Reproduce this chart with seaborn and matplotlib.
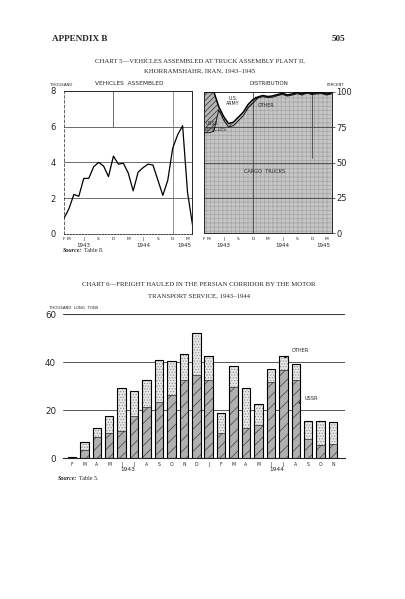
import matplotlib
matplotlib.use("Agg")
import matplotlib.pyplot as plt
import matplotlib.transforms as mtrans
import numpy as np
import pandas as pd
import seaborn as sns

# ---- Chart 5: vehicles assembled, Feb 1943 - Apr 1945 (monthly) ----
months5 = ["F", "M", "A", "M", "J", "J", "A", "S", "O", "N", "D",
           "J", "F", "M", "A", "M", "J", "J", "A", "S", "O", "N", "D",
           "J", "F", "M", "A"]
label_pos5 = [0, 1, 4, 7, 10, 13, 16, 19, 22, 25]
years5 = ["1943", "1944", "1945"]
year_pos5 = [4, 16, 24.3]

vehicles = [0.86, 1.4, 2.2, 2.1, 3.1, 3.1, 3.75, 4.0, 3.8, 3.2, 4.35,
            3.9, 3.95, 3.4, 2.4, 3.45, 3.7, 3.9, 3.85, 3.0, 2.15, 3.0, 4.8,
            5.55, 6.05, 2.3, 0.5]

# distribution, percent
cargo_pct = [71, 71, 72, 87, 80, 75, 76, 79.5, 83, 88.5, 92,
             95.5, 96.5, 95.8, 96.2, 97.2, 98.1, 96.9, 97.6, 98.6, 97.6, 99.0, 98.0,
             98.4, 98.6, 97.6, 98.4]
ussr_pct = [29, 29, 28, 2.5, 2.5, 2.5, 2.5, 2.5, 2.5, 2.5, 2.5,
            0.8, 0.8, 0.8, 0.8, 0.8, 0.8, 0.8, 0.8, 0.8, 0.8, 0.8, 0.8,
            0.8, 0.8, 0.8, 0.8]
army_pct = [0, 0, 0, 10, 17, 22, 21, 17.5, 14, 8.5, 5,
            2.7, 1.7, 2.4, 2.0, 1.0, 0.5, 1.3, 0.8, 0.2, 0.8, 0.0, 0.6,
            0.3, 0.2, 0.8, 0.3]
other_pct = [0, 0, 0, 0.5, 0.5, 0.5, 0.5, 0.5, 0.5, 0.5, 0.5,
             1.0, 1.0, 1.0, 1.0, 1.0, 0.6, 1.0, 0.8, 0.4, 0.8, 0.2, 0.6,
             0.5, 0.4, 0.8, 0.5]

# ---- Chart 6: freight hauled, thousand long tons, Feb 1943 - Nov 1944 ----
months6 = ["F", "M", "A", "M", "J", "J", "A", "S", "O", "N", "D",
           "J", "F", "M", "A", "M", "J", "J", "A", "S", "O", "N"]
years6 = ["1943", "1944"]
year_pos6 = [4.5, 16.5]
total_tons = [0.6, 6.5, 12.4, 17.7, 29.0, 27.9, 32.3, 40.7, 40.4, 43.4, 52.1,
              42.3, 18.6, 38.5, 29.2, 22.5, 37.2, 42.5, 39.3, 15.6, 15.4, 15.2]
ussr_tons = [0.3, 3.4, 8.6, 10.6, 11.3, 17.5, 21.1, 23.3, 26.2, 32.7, 34.5,
             32.4, 10.3, 29.7, 12.4, 13.7, 31.6, 36.6, 32.4, 8.1, 5.4, 5.8]

sns.set_style("white")
plt.rcParams["font.family"] = ["DejaVu Sans"]
plt.rcParams["hatch.linewidth"] = 0.5

W, H = 406, 599
fig = plt.figure(figsize=(W / 100, H / 100), dpi=100)


def box(x0, y0, x1, y1):
    # pixel box (top-left origin) -> figure fraction rect
    return [x0 / W, 1 - y1 / H, (x1 - x0) / W, (y1 - y0) / H]


def ptext(x, y, s, **kw):
    fig.text(x / W, 1 - y / H, s, **kw)


serif = "Liberation Serif"

# page header and titles
ptext(52, 39, "APPENDIX B", family=serif, fontsize=6.6, weight="bold", va="center")
ptext(345, 39, "505", family=serif, fontsize=6.6, weight="bold", va="center", ha="right")
ptext(200, 61, "CHART 5—VEHICLES ASSEMBLED AT TRUCK ASSEMBLY PLANT II,",
      family=serif, fontsize=4.9, ha="center", va="center")
ptext(200, 70.5, "KHORRAMSHAHR, IRAN, 1943–1945",
      family=serif, fontsize=4.9, ha="center", va="center")
ptext(199, 285, "CHART 6—FREIGHT HAULED IN THE PERSIAN CORRIDOR BY THE MOTOR",
      family=serif, fontsize=4.9, ha="center", va="center")
ptext(199, 295.5, "TRANSPORT SERVICE, 1943–1944",
      family=serif, fontsize=4.9, ha="center", va="center")

# ---------- left panel: vehicles assembled ----------
ax1 = fig.add_axes(box(64, 91, 192.5, 233.7))
x5 = np.arange(len(months5))
for yv in [2, 4, 6]:
    ax1.axhline(yv, color="#555555", lw=0.6, zorder=0)
ax1.plot([10, 10], [6, 8], color="#555555", lw=0.6, zorder=0)
ax1.axvline(22, color="#666666", lw=0.5, zorder=0)
sns.lineplot(x=x5, y=vehicles, ax=ax1, color="black", lw=0.9)
ax1.set_xlim(0, 26)
ax1.set_ylim(0, 8)
ax1.set_yticks([0, 2, 4, 6, 8])
ax1.set_yticklabels(["0", "2", "4", "6", "8"], fontsize=6)
ax1.set_xticks(x5)
ax1.set_xticklabels([m if i in label_pos5 else "" for i, m in enumerate(months5)],
                    fontsize=3.2)
ax1.tick_params(axis="y", length=3, width=0.5, pad=3)
ax1.tick_params(axis="x", length=1.5, width=0.4, pad=1)
for s in ["top", "right"]:
    ax1.spines[s].set_linewidth(0.7)
ax1.spines["left"].set_linewidth(0.5)
ax1.spines["left"].set_linestyle((0, (4, 3)))
ax1.spines["bottom"].set_linewidth(0.6)
ax1.spines["bottom"].set_linestyle((0, (2, 1.5)))
ax1.set_xlabel("")
ax1.set_ylabel("")
tr1 = mtrans.blended_transform_factory(ax1.transData, ax1.transAxes)
for yr, xp in zip(years5, year_pos5):
    ax1.text(xp, -0.085, yr, transform=tr1, fontsize=4, ha="center", va="center")

ptext(50, 85.5, "THOUSAND", fontsize=2.8, va="center")
ptext(129, 83.5, "VEHICLES  ASSEMBLED", fontsize=4.2, ha="center", va="center")
ptext(63, 251, "Source:", family=serif, fontsize=4.3, style="italic", weight="bold",
      va="center")
ptext(84, 251, "Table 8.", family=serif, fontsize=4.3, va="center")

# ---------- right panel: distribution ----------
ax2 = fig.add_axes(box(204, 91.7, 331.5, 233.3))
c1 = np.array(cargo_pct)
c2 = c1 + np.array(ussr_pct)
c3 = c2 + np.array(army_pct)
c4 = c3 + np.array(other_pct)
ax2.fill_between(x5, 0, c1, facecolor="#c6c6c6", edgecolor="#a4a4a4",
                 hatch="++++", lw=0, zorder=1)
ax2.fill_between(x5, c1, c2, facecolor="#b5b5b5", edgecolor="#2a2a2a",
                 hatch="//////", lw=0, zorder=1)
ax2.fill_between(x5, c2, c4, facecolor="white", lw=0, zorder=1)
for yv in [25, 50, 75]:
    ax2.axhline(yv, color="#444444", lw=0.6, zorder=2)
ax2.axvline(10, color="#444444", lw=0.6, zorder=2)
ax2.plot([22, 22], [53, 100], color="#444444", lw=0.6, zorder=2)
sns.lineplot(x=x5, y=c1, ax=ax2, color="black", lw=0.6, zorder=3)
sns.lineplot(x=x5, y=c2, ax=ax2, color="black", lw=1.1, zorder=3)
ax2.set_xlim(0, 26)
ax2.set_ylim(0, 100)
ax2.yaxis.tick_right()
ax2.set_yticks([0, 25, 50, 75, 100])
ax2.set_yticklabels(["0", "25", "50", "75", "100"], fontsize=6)
ax2.set_xticks(x5)
ax2.set_xticklabels([m if i in label_pos5 else "" for i, m in enumerate(months5)],
                    fontsize=3.2)
ax2.tick_params(axis="y", length=2, width=0.5, pad=1.5)
ax2.tick_params(axis="x", length=1.5, width=0.4, pad=1)
for s in ax2.spines.values():
    s.set_linewidth(0.7)
ax2.set_xlabel("")
ax2.set_ylabel("")
tr2 = mtrans.blended_transform_factory(ax2.transData, ax2.transAxes)
for yr, xp in zip(years5, year_pos5):
    ax2.text(xp, -0.085, yr, transform=tr2, fontsize=4, ha="center", va="center")

ax2.text(5.9, 93.5, "U.S.\nARMY", fontsize=3.4, ha="center", va="center",
         linespacing=0.9, zorder=5)
ax2.annotate("OTHER", xy=(10.4, 96.5), xytext=(11.0, 90.5), fontsize=3.4,
             ha="left", va="center", zorder=5,
             arrowprops=dict(arrowstyle="-|>", lw=0.4, color="black",
                             mutation_scale=3))
ax2.text(0.3, 77.6, "USSR", fontsize=3.4, ha="left", va="center", zorder=5)
ax2.text(0.0, 73.0, "VEHICLES", fontsize=3.4, ha="left", va="center", zorder=5)
ax2.text(12.4, 43.3, "CARGO  TRUCKS", fontsize=3.6, ha="center", va="center",
         zorder=5)

ptext(269, 83.5, "DISTRIBUTION", fontsize=4.0, ha="center", va="center")
ptext(336, 85.5, "PERCENT", fontsize=2.8, ha="center", va="center")

# ---------- chart 6: freight hauled ----------
ax3 = fig.add_axes(box(63, 314, 345, 458))
df6 = pd.DataFrame({"slot": np.arange(len(months6)),
                    "total": total_tons, "ussr": ussr_tons})
for yv in [20, 40]:
    ax3.axhline(yv, color="#555555", lw=0.7, zorder=0)
ax3.axhline(60, color="#444444", lw=0.8, zorder=0)

n = len(df6)
sns.barplot(data=df6, x="slot", y="total", ax=ax3, color="#e6e6e6",
            saturation=1, width=0.68, errorbar=None, linewidth=0)
for p in ax3.patches[-n:]:
    p.set_hatch("......")
    p.set_edgecolor("#8c8c8c")
    p.set_linewidth(0)
sns.barplot(data=df6, x="slot", y="ussr", ax=ax3, color="#b0b0b0",
            saturation=1, width=0.68, errorbar=None, linewidth=0)
for p in ax3.patches[-n:]:
    p.set_hatch("///")
    p.set_edgecolor("#404040")
    p.set_linewidth(0)
sns.barplot(data=df6, x="slot", y="ussr", ax=ax3, color="#333333",
            fill=False, width=0.68, errorbar=None, linewidth=0.5)
sns.barplot(data=df6, x="slot", y="total", ax=ax3, color="black",
            fill=False, width=0.68, errorbar=None, linewidth=0.8)

ax3.set_xlim(-0.72, 21.96)
ax3.set_ylim(0, 60)
ax3.set_yticks([0, 20, 40, 60])
ax3.set_yticklabels(["0", "20", "40", "60"], fontsize=6.3)
ax3.set_xticks(np.arange(n))
ax3.set_xticklabels(months6, fontsize=3.3)
ax3.tick_params(axis="y", length=0, pad=5)
ax3.tick_params(axis="x", length=1.5, width=0.4, pad=1.5)
for s in ["top", "left", "right"]:
    ax3.spines[s].set_visible(False)
ax3.spines["bottom"].set_linewidth(0.8)
ax3.set_xlabel("")
ax3.set_ylabel("")
tr3 = mtrans.blended_transform_factory(ax3.transData, ax3.transAxes)
for yr, xp in zip(years6, year_pos6):
    ax3.text(xp, -0.08, yr, transform=tr3, fontsize=4.2, ha="center", va="center")

ax3.annotate("OTHER", xy=(17.05, 41.8), xytext=(17.7, 44.6), fontsize=3.6,
             ha="left", va="center",
             arrowprops=dict(arrowstyle="-|>", lw=0.4, color="black",
                             mutation_scale=3))
ax3.annotate("USSR", xy=(18.2, 22.8), xytext=(18.75, 24.6), fontsize=3.6,
             ha="left", va="center",
             arrowprops=dict(arrowstyle="-|>", lw=0.4, color="black",
                             mutation_scale=3))

ptext(49, 308, "THOUSAND  LONG  TONS", fontsize=2.8, va="center")
ptext(58, 479, "Source:", family=serif, fontsize=4.3, style="italic", weight="bold",
      va="center")
ptext(79, 479, "Table 5.", family=serif, fontsize=4.3, va="center")

fig.savefig("out.png", dpi=100, facecolor="white")
